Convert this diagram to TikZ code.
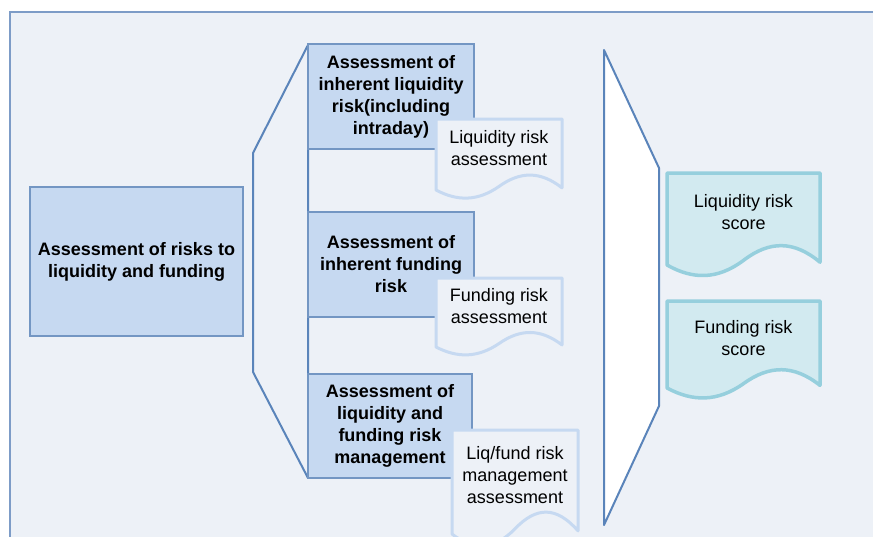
\documentclass[tikz,border=0pt]{standalone}
\usepackage{fontspec}
\setmainfont{Liberation Sans}
\usetikzlibrary{positioning,calc}

\definecolor{bgblue}{HTML}{EDF1F7}
\definecolor{frameblue}{HTML}{7D9CC7}
\definecolor{boxfill}{HTML}{C6D9F1}
\definecolor{boxline}{HTML}{7396C3}
\definecolor{brline}{HTML}{5A84BA}
\definecolor{docline}{HTML}{C6D9F1}
\definecolor{scorefill}{HTML}{D2EAF0}
\definecolor{scoreline}{HTML}{96CFDD}

\tikzset{
	box/.style={draw=boxline, fill=boxfill, line width=2.5pt, align=center, inner sep=0pt, font=\bfseries\fontsize{18}{22}\selectfont},
	bracket/.style={draw=brline, line width=2pt, line join=round},
	docbox/.style={inner sep=0pt, outer sep=0pt},
	doctext/.style={align=center, inner sep=0pt, font=\fontsize{18}{22}\selectfont},
	paper/.style={draw=docline, fill=bgblue, line width=3pt, line join=round},
	scorepaper/.style={draw=scoreline, fill=scorefill, line width=3.5pt, line join=round}
}

% document outline with a wavy bottom, drawn round a named node
\newcommand{\wavedoc}[2]{%
	\draw[#2] let \p1=(#1.north west), \p2=(#1.south east), \n1={\y1-\y2}, \n2={\x2-\x1} in
		(\x1,\y2) -- (\x1,\y1) -- (\x2,\y1) -- (\x2,\y2+0.03*\n1)
		.. controls (\x1+0.83*\n2,\y2+0.267*\n1) and (\x1+0.67*\n2,\y2+0.267*\n1) .. (\x1+0.5*\n2,\y2+0.05*\n1)
		.. controls (\x1+0.33*\n2,\y2-0.16*\n1) and (\x1+0.17*\n2,\y2-0.16*\n1) .. (\x1,\y2) -- cycle;
}

\begin{document}
\begin{tikzpicture}[x=1pt, y=1pt]
	\useasboundingbox (0,0) rectangle (873,-536);
	\clip (0,0) rectangle (873,-536);
	\fill[white] (0,0) rectangle (873,-536);
	\draw[draw=frameblue, fill=bgblue, line width=2pt] (10,-12) rectangle (900,-560);

	% left part
	\node[box, minimum width=213pt, minimum height=149pt] (risks) at (136.5,-261.5) {Assessment of risks to\\liquidity and funding};

	\coordinate (bt) at (308,-45);
	\coordinate (bu) at (253,-153);
	\coordinate (bd) at (253,-372);
	\coordinate (bb) at (308,-478);
	\draw[bracket] (bt) -- (bu) -- (bd) -- (bb) -- cycle;

	% middle boxes
	\node[box, minimum width=166pt, minimum height=105pt] (lqr) at (391,-96.5) {Assessment of\\inherent liquidity\\risk(including\\intraday)};
	\node[box, minimum width=166pt, minimum height=105pt] (fdr) at (391,-264.5) {Assessment of\\inherent funding\\risk};
	\node[box, minimum width=164pt, minimum height=104pt] (mgr) at (390,-426) {Assessment of\\liquidity and\\funding risk\\management};

	\node[docbox, minimum width=126pt, minimum height=71pt] (lqa) at (499,-154.5) {};
	\wavedoc{lqa}{paper}
	\node[doctext] (lqat) at ([yshift=6pt]lqa.center) {Liquidity risk\\assessment};

	\node[docbox, minimum width=126pt, minimum height=69pt] (fda) at (499,-312.5) {};
	\wavedoc{fda}{paper}
	\node[doctext] (fdat) at ([yshift=6pt]fda.center) {Funding risk\\assessment};

	\node[docbox, minimum width=126pt, minimum height=104pt] (mga) at (515,-482) {};
	\wavedoc{mga}{paper}
	\node[doctext] (mgat) at ([yshift=7pt]mga.center) {Liq/fund risk\\management\\assessment};

	% right part
	\coordinate (rt) at (604,-50);
	\coordinate (ru) at (659,-168);
	\coordinate (rd) at (659,-406);
	\coordinate (rb) at (604,-525);
	\draw[bracket, fill=white] (rt) -- (ru) -- (rd) -- (rb) -- cycle;

	\node[docbox, minimum width=153pt, minimum height=92pt] (lqs) at (743.5,-219) {};
	\wavedoc{lqs}{scorepaper}
	\node[doctext] (lqst) at ([yshift=7pt]lqs.center) {Liquidity risk\\score};

	\node[docbox, minimum width=153pt, minimum height=87pt] (fds) at (743.5,-344.5) {};
	\wavedoc{fds}{scorepaper}
	\node[doctext] (fdst) at ([yshift=6pt]fds.center) {Funding risk\\score};
\end{tikzpicture}
\end{document}
